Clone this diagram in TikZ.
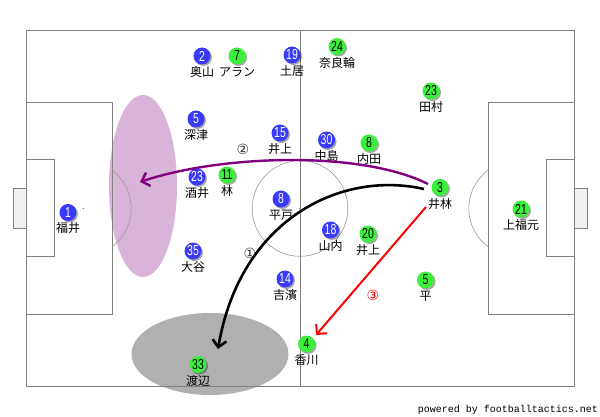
\documentclass[tikz,border=0pt]{standalone}
\usepackage{fontspec}
\setmainfont{Liberation Sans}
\newfontfamily\jpfont{Noto Sans CJK JP}
\newfontfamily\monofont{Liberation Mono}
\newfontfamily\symfont{DejaVu Sans}
\usetikzlibrary{arrows.meta,shadows}
\definecolor{pline}{RGB}{128,128,128}
\definecolor{pblue}{RGB}{58,58,250}
\definecolor{pgreen}{RGB}{58,240,58}
\definecolor{zonep}{RGB}{216,180,216}
\definecolor{zoneg}{RGB}{176,176,176}
\definecolor{arrp}{RGB}{128,0,128}
\definecolor{goalfill}{RGB}{240,240,240}
\tikzset{
  pitchline/.style={draw=pline, line width=1pt},
  thinline/.style={draw=pline!80, line width=0.6pt},
  plbase/.style={circle, minimum size=17pt, inner sep=0pt,
    font=\fontsize{14.5}{14.5}\selectfont,
    drop shadow={shadow xshift=1.5pt, shadow yshift=-1.5pt, opacity=0.35, fill=black}},
  bp/.style={plbase, fill=pblue, text=white},
  gp/.style={plbase, fill=pgreen, text=black},
  lbl/.style={inner sep=0pt, font=\jpfont\fontsize{12}{12}\selectfont},
  mv/.style={line width=2.6pt, -{Straight Barb[length=7pt,width=14pt]}},
  mvlbl/.style={inner sep=0pt, font=\symfont\fontsize{14}{14}\selectfont}
}
\newcommand\putplayer[5]{%
  \node[#1] (#2) at (#3) {\scalebox{0.72}[1]{#4}};
  \node[lbl] (#2l) at ([yshift=-16pt]#2.center) {#5};}
\begin{document}
\begin{tikzpicture}[x=1pt,y=-1pt]
\useasboundingbox (0,0) rectangle (600,417);
% zones
\fill[zonep] (143,186) ellipse [x radius=34, y radius=91];
\fill[zoneg] (210,354) ellipse [x radius=78.5, y radius=41];
% pitch
\draw[pitchline] (26,31) rectangle (574,386);
\draw[pitchline] (300,31) -- (300,386);
\draw[pitchline] (26,103) rectangle (112,314);
\draw[pitchline] (26,160) rectangle (54,256);
\draw[pitchline, fill=goalfill] (13,189) rectangle (26,228);
\draw[pitchline] (488,103) rectangle (574,314);
\draw[pitchline] (546,160) rectangle (574,256);
\draw[pitchline, fill=goalfill] (574,189) rectangle (587,228);
\draw[thinline] (300,208.5) circle [radius=47.8];
\draw[thinline] (112.3,170.4) arc [start angle=-52.8, end angle=52.8, radius=47.8];
\draw[thinline] (487.7,170.4) arc [start angle=232.8, end angle=127.2, radius=47.8];
\fill[pline] (300,208.5) circle [radius=0.8];
\fill[pline] (83.4,208.5) circle [radius=0.8];
\fill[pline] (516.6,208.5) circle [radius=0.8];
% players (blue)
\putplayer{bp}{b1}{68,212.5}{1}{福井}
\putplayer{bp}{b2}{202,56}{2}{奥山}
\putplayer{bp}{b19}{292,55}{19}{土居}
\putplayer{bp}{b5}{196,119}{5}{深津}
\putplayer{bp}{b15}{280,133}{15}{井上}
\putplayer{bp}{b23}{197,177}{23}{酒井}
\putplayer{bp}{b8}{281,199}{8}{平戸}
\putplayer{bp}{b30}{326.5,140}{30}{中島}
\putplayer{bp}{b18}{330.5,230}{18}{山内}
\putplayer{bp}{b35}{193,251}{35}{大谷}
\putplayer{bp}{b14}{285,279}{14}{吉濱}
% players (green)
\putplayer{gp}{g7}{237,56}{7}{アラン}
\putplayer{gp}{g24}{337,46.5}{24}{奈良輪}
\putplayer{gp}{g23}{431,91}{23}{田村}
\putplayer{gp}{g8}{369,143}{8}{内田}
\putplayer{gp}{g11}{227,175}{11}{林}
\putplayer{gp}{g3}{440,187.5}{3}{井林}
\putplayer{gp}{g21}{521,209}{21}{上福元}
\putplayer{gp}{g20}{368,234}{20}{井上}
\putplayer{gp}{g5}{425.5,280}{5}{平}
\putplayer{gp}{g4}{306.5,344}{4}{香川}
\putplayer{gp}{g33}{198,364.5}{33}{渡辺}
% movements
\coordinate (a1s) at (424,189);
\coordinate (a1e) at (218,349);
\coordinate (a2s) at (428,184);
\coordinate (a2e) at (140,182);
\coordinate (a3s) at (426,207);
\coordinate (a3e) at (316,335);
\draw[mv, black] (a1s) .. controls (340,170) and (240,220) .. (a1e);
\draw[mv, arrp, line width=2.4pt] (a2s) .. controls (360,150) and (220,155) .. (a2e);
\draw[mv, red, line width=2pt] (a3s) -- (a3e);
\node[mvlbl, text=black!80] (m1) at (250,253) {①};
\node[mvlbl, text=black!80] (m2) at (243,149) {②};
\node[mvlbl, text=red] (m3) at (373,295) {③};
% credit
\node[inner sep=0pt, anchor=east, font=\monofont\fontsize{10}{10}\selectfont] (credit) at (598,410) {powered by footballtactics.net};
\end{tikzpicture}
\end{document}
